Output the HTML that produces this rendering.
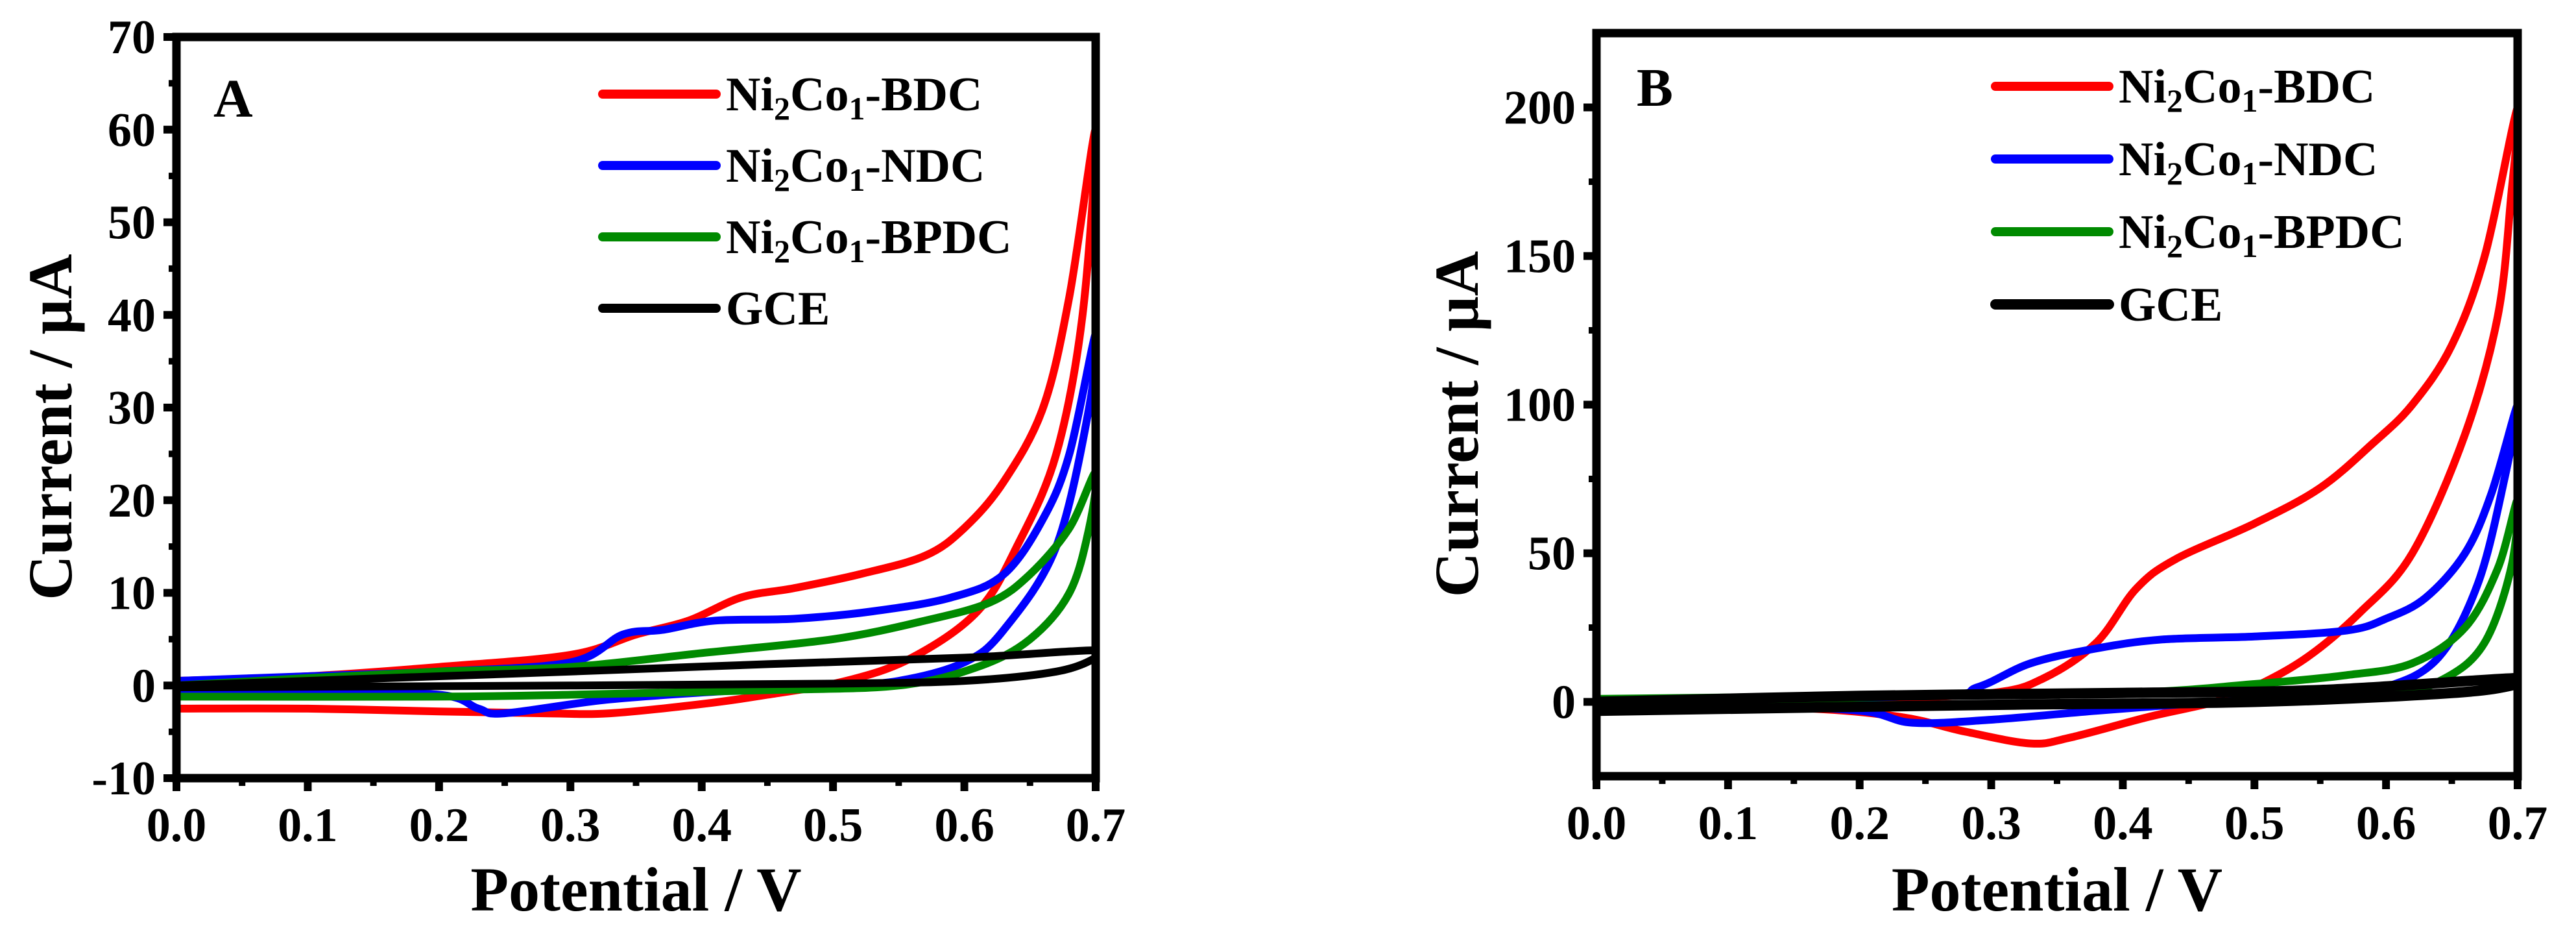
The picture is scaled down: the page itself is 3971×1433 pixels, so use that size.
<!DOCTYPE html>
<html><head><meta charset="utf-8"><style>
html,body{margin:0;padding:0;background:#fff;}
svg{display:block;font-family:"Liberation Serif",serif;font-weight:bold;}
</style></head><body>
<svg id="chart" width="3971" height="1433" viewBox="0 0 3971 1433" xmlns="http://www.w3.org/2000/svg"></svg>
<script>
// ---------- data: panel A ----------
const seriesNames = ["Ni2Co1-BDC","Ni2Co1-NDC","Ni2Co1-BPDC","GCE"];
const seriesColors = ["#ff0000","#0000ff","#008a00","#000000"];
const xTicks = [0.0,0.1,0.2,0.3,0.4,0.5,0.6,0.7];
const yTicksA = [-10,0,10,20,30,40,50,60,70];
const yTicksB = [0,50,100,150,200];
const aBdcX = [0,0.1,0.2,0.3,0.35,0.39,0.43,0.47,0.52,0.57,0.6,0.63,0.66,0.68,0.7,0.69,0.67,0.64,0.61,0.56,0.51,0.45,0.4,0.33,0.28,0.2,0.1,0.0];
const aBdcY = [0.5,1,2,3.3,5.5,7,9.5,10.5,12,14,17,22,30,42,60,40,25,15,8,3,0.5,-1,-2,-3,-3,-2.8,-2.5,-2.5];
const aNdcX = [0,0.1,0.2,0.3,0.34,0.37,0.41,0.47,0.53,0.59,0.63,0.66,0.68,0.7,0.695,0.67,0.63,0.6,0.55,0.5,0.43,0.33,0.25,0.23,0.2,0.1,0];
const aNdcY = [0.5,1,1.5,2.5,5.5,6,7,7.2,8,9.5,12,18,25,38,30,15,6,2.5,0.5,0,-0.5,-1.5,-3,-2.5,-1,-0.8,-0.8];
const aBpdcX = [0,0.1,0.2,0.3,0.4,0.5,0.57,0.62,0.65,0.68,0.7,0.695,0.68,0.65,0.61,0.55,0.45,0.3,0.2,0];
const aBpdcY = [0,0.8,1.5,2,3.5,5,7,9,12,17,23,17,10,5,2,0,-0.5,-1,-1.2,-1.2];
const aGceX = [0,0.2,0.3,0.45,0.6,0.7,0.7,0.67,0.6,0.5,0.3,0];
const aGceY = [0,1,1.5,2.3,3,3.8,3,1.5,0.5,0.2,0,-0.2];
// ---------- data: panel B ----------
const bBdcX = [0,0.2,0.3,0.34,0.38,0.41,0.44,0.5,0.55,0.59,0.62,0.65,0.675,0.7,0.695,0.685,0.66,0.62,0.58,0.54,0.5,0.47,0.42,0.36,0.33,0.28,0.23,0.15,0];
const bBdcY = [0,1,3,8,20,38,48,60,72,87,100,120,150,200,170,130,90,50,30,15,5,0,-5,-12,-14,-10,-5,-2,-1];
const bNdcX = [0,0.25,0.29,0.33,0.38,0.43,0.5,0.57,0.6,0.63,0.66,0.68,0.7,0.69,0.67,0.64,0.6,0.55,0.47,0.38,0.3,0.24,0.2,0.1,0];
const bNdcY = [0,2,5,13,18,21,22,24,28,35,50,70,100,75,40,15,5,2,0,-3,-6,-7,-3,-1,-1];
const bBpdcX = [0,0.2,0.4,0.5,0.57,0.62,0.66,0.685,0.7,0.695,0.675,0.645,0.6,0.5,0.3,0];
const bBpdcY = [1,2,3,6,9,13,25,45,68,45,20,8,2,0,-1,-1];
const bGceX = [0,0.2,0.4,0.55,0.7,0.7,0.65,0.5,0.3,0];
const bGceY = [0,2,3,4,8,6,3,0,-1,-3];

const NS="http://www.w3.org/2000/svg";
const svg=document.getElementById('chart');
function mk(tag,attrs,parent){const e=document.createElementNS(NS,tag);for(const k in attrs)e.setAttribute(k,attrs[k]);(parent||svg).appendChild(e);return e;}
function smoothPath(pts){
  let d=`M${pts[0][0].toFixed(1)},${pts[0][1].toFixed(1)}`;
  for(let i=0;i<pts.length-1;i++){
    const p0=pts[Math.max(i-1,0)],p1=pts[i],p2=pts[i+1],p3=pts[Math.min(i+2,pts.length-1)];
    const c1=[p1[0]+(p2[0]-p0[0])/6,p1[1]+(p2[1]-p0[1])/6];
    const c2=[p2[0]-(p3[0]-p1[0])/6,p2[1]-(p3[1]-p1[1])/6];
    d+=` C${c1[0].toFixed(1)},${c1[1].toFixed(1)} ${c2[0].toFixed(1)},${c2[1].toFixed(1)} ${p2[0].toFixed(1)},${p2[1].toFixed(1)}`;
  }
  return d;
}
function panel(cfg){
  const g=mk('g',{});
  
  
  const X=v=>cfg.x0+(v-0)/(0.7-0)*(cfg.x1-cfg.x0);
  const Y=v=>cfg.yb-(v-cfg.ymin)/(cfg.ymax-cfg.ymin)*(cfg.yb-cfg.yt);
  const cid='clip-'+cfg.name;
  const cp=mk('clipPath',{id:cid},g);
  mk('rect',{x:cfg.x0,y:cfg.yt,width:cfg.x1-cfg.x0,height:cfg.yb-cfg.yt},cp);
  const lg=mk('g',{'clip-path':`url(#${cid})`},g);
  cfg.series.forEach((s,i)=>{
    const pts=s[0].map((xv,j)=>[X(xv),Y(s[1][j])]);
    const p=mk('path',{d:smoothPath(pts),fill:'none',stroke:seriesColors[i],'stroke-width':cfg.sw[i],'stroke-linejoin':'round','stroke-linecap':'round'},lg);
    
    
  });
  const fr=mk('rect',{x:cfg.x0,y:cfg.yt,width:cfg.x1-cfg.x0,height:cfg.yb-cfg.yt,fill:'none',stroke:'#000','stroke-width':13},g);
  
  
  xTicks.forEach((t,i)=>{
    const x=X(t);
    mk('line',{x1:x,y1:cfg.yb,x2:x,y2:cfg.yb+20,stroke:'#000','stroke-width':12},g);
    if(i<xTicks.length-1){const xm=X(t+0.05);mk('line',{x1:xm,y1:cfg.yb,x2:xm,y2:cfg.yb+12,stroke:'#000','stroke-width':10},g);}
    const tx=mk('text',{x:x,y:cfg.yb+97,'font-size':74,'text-anchor':'middle'},g);
    tx.textContent=t.toFixed(1);
    
    
  });
  cfg.yTicks.forEach((t,i)=>{
    const y=Y(t);
    mk('line',{x1:cfg.x0-20,y1:y,x2:cfg.x0,y2:y,stroke:'#000','stroke-width':12},g);
    const step=cfg.yTicks[1]-cfg.yTicks[0];
    const ym=Y(t+step/2); if(ym>cfg.yt) mk('line',{x1:cfg.x0-12,y1:ym,x2:cfg.x0,y2:ym,stroke:'#000','stroke-width':10},g);
    const tx=mk('text',{x:cfg.x0-32,y:y+25,'font-size':74,'text-anchor':'end'},g);
    tx.textContent=t;
    
    
  });
  const xl=mk('text',{x:(cfg.x0+cfg.x1)/2,y:1403,'font-size':96,'text-anchor':'middle'},g);
  xl.textContent='Potential / V';
  
  
  const yl=mk('text',{x:0,y:0,'font-size':96,'text-anchor':'middle',transform:`translate(${cfg.ylx},${(cfg.yt+cfg.yb)/2+30}) rotate(-90)`},g);
  yl.textContent='Current / µA';
  
  
  const pl=mk('text',{x:cfg.labX,y:cfg.labY,'font-size':84},g);
  pl.textContent=cfg.label;
  
  
  seriesNames.forEach((n,i)=>{
    const y=cfg.legY+i*cfg.legDy;
    const lg2=mk('g',{},g);
    
    
    mk('line',{x1:cfg.legX,y1:y,x2:cfg.legX+175,y2:y,stroke:seriesColors[i],'stroke-width':i===3?Math.max(cfg.sw[3],14):14,'stroke-linecap':'round'},lg2);
    const t=mk('text',{x:cfg.legX+190,y:y+25,'font-size':74},lg2);
    if(n==='GCE'){t.textContent='GCE';}
    else{
      const suf=n.split('-')[1];
      t.innerHTML=`Ni<tspan font-size="50" dy="14">2</tspan><tspan dy="-14">Co</tspan><tspan font-size="50" dy="14">1</tspan><tspan dy="-14">-${suf}</tspan>`;
    }
  });
}
panel({name:'panel-a',x0:272,x1:1689,yt:57,yb:1199,ymin:-10,ymax:70,yTicks:yTicksA,
  series:[[aBdcX,aBdcY],[aNdcX,aNdcY],[aBpdcX,aBpdcY],[aGceX,aGceY]],sw:[12,12,12,12],
  ylx:110,label:'A',labX:329,labY:180,legX:929,legY:145,legDy:110});
panel({name:'panel-b',x0:2461,x1:3881,yt:51,yb:1196,ymin:-25,ymax:225,yTicks:yTicksB,
  series:[[bBdcX,bBdcY],[bNdcX,bNdcY],[bBpdcX,bBpdcY],[bGceX,bGceY]],sw:[12,12,12,16],
  ylx:2278,label:'B',labX:2523,labY:163,legX:3076,legY:133,legDy:112});
</script>
</body></html>
